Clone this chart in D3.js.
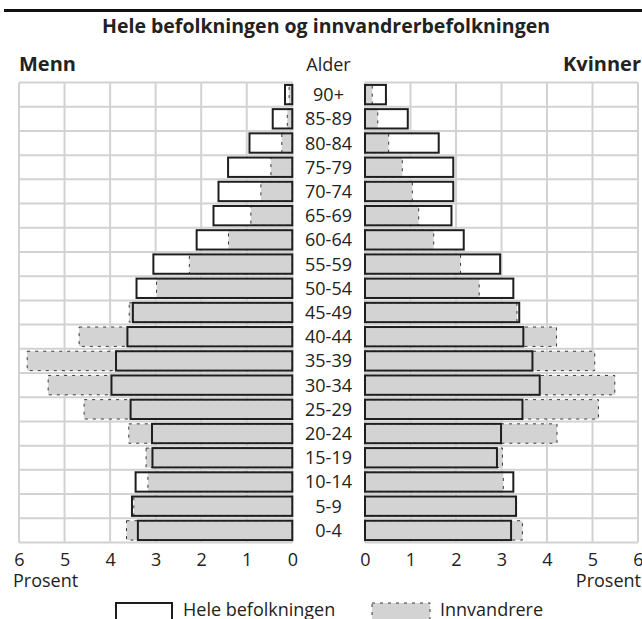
<!DOCTYPE html>
<html>
<head>
<meta charset="utf-8">
<script src="https://cdn.jsdelivr.net/npm/d3@7"></script>
<style>
  html, body { margin: 0; padding: 0; background: #fff; }
  svg { display: block; font-family: "Open Sans", sans-serif; }
</style>
</head>
<body>
<svg id="chart" width="642" height="619"></svg>
<script>
const ages = ["0-4","5-9","10-14","15-19","20-24","25-29","30-34","35-39","40-44","45-49","50-54","55-59","60-64","65-69","70-74","75-79","80-84","85-89","90+"];
const menHele   = [3.39,3.52,3.44,3.07,3.08,3.55,3.97,3.87,3.62,3.50,3.42,3.05,2.10,1.73,1.62,1.41,0.94,0.43,0.16];
const menInnv   = [3.64,3.48,3.17,3.21,3.59,4.57,5.36,5.82,4.68,3.58,2.98,2.26,1.40,0.91,0.69,0.47,0.23,0.11,0.07];
const womHele   = [3.21,3.32,3.26,2.90,2.99,3.46,3.84,3.68,3.48,3.39,3.26,2.97,2.17,1.90,1.94,1.94,1.62,0.94,0.46];
const womInnv   = [3.46,3.31,3.04,3.02,4.22,5.13,5.49,5.05,4.21,3.34,2.51,2.10,1.51,1.18,1.04,0.82,0.52,0.28,0.16];
const tickValues = [0,1,2,3,4,5,6];
const title = "Hele befolkningen og innvandrerbefolkningen";
const legendLabels = ["Hele befolkningen", "Innvandrere"];

const svg = d3.select("#chart");
const gridColor = "#d2d2d2";
const barFill = "#d3d3d3";
const outline = "#1e1e1e";
const textColor = "#222";

const yTop = 82.5, yBottom = 542.5;
const y = d3.scaleBand().domain(ages.slice().reverse()).range([yTop, yBottom]).padding(0);
const barPad = y.bandwidth() * 0.1;
const barH = y.bandwidth() - 2 * barPad;

const xL = d3.scaleLinear().domain([0, 6]).range([292.3, 19]);
const xR = d3.scaleLinear().domain([0, 6]).range([365, 638]);

// top rule
svg.append("line").attr("x1", 4).attr("x2", 642).attr("y1", 10.5).attr("y2", 10.5)
  .attr("stroke", "#111").attr("stroke-width", 3);

svg.append("text").attr("x", 326).attr("y", 33).attr("text-anchor", "middle")
  .attr("font-weight", "bold").attr("font-size", 19.5).attr("fill", textColor).text(title);

svg.append("text").attr("x", 19).attr("y", 71).attr("font-weight", "bold")
  .attr("font-size", 20).attr("fill", textColor).text("Menn");
svg.append("text").attr("x", 641).attr("y", 71).attr("font-weight", "bold")
  .attr("text-anchor", "end").attr("font-size", 20).attr("fill", textColor).text("Kvinner");
svg.append("text").attr("x", 328.5).attr("y", 71).attr("text-anchor", "middle")
  .attr("font-size", 18).attr("fill", textColor).text("Alder");

function panel(x, hele, innv, side) {
  const g = svg.append("g");
  const x0 = x(0), x6 = x(6);
  const xmin = Math.min(x0, x6), xmax = Math.max(x0, x6);
  g.selectAll("line.v").data(tickValues).join("line")
    .attr("x1", d => x(d)).attr("x2", d => x(d))
    .attr("y1", yTop).attr("y2", yBottom)
    .attr("stroke", gridColor).attr("stroke-width", 2);
  const rowEdges = y.domain().map(a => y(a)).concat([yBottom]);
  g.selectAll("line.h").data(rowEdges).join("line")
    .attr("x1", xmin).attr("x2", xmax)
    .attr("y1", d => d).attr("y2", d => d)
    .attr("stroke", gridColor).attr("stroke-width", 2);

  const rect = (sel, vals) => sel
    .attr("x", (d, i) => Math.min(x(0), x(vals[i])))
    .attr("width", (d, i) => Math.abs(x(vals[i]) - x(0)))
    .attr("y", d => y(d) + barPad)
    .attr("height", barH);

  rect(g.append("g").selectAll("rect").data(ages).join("rect"), hele)
    .attr("fill", "#fff");
  rect(g.append("g").selectAll("rect").data(ages).join("rect"), innv)
    .attr("fill", barFill).attr("stroke", "#3a3a3a").attr("stroke-width", 1)
    .attr("stroke-dasharray", "3,5");
  rect(g.append("g").selectAll("rect").data(ages).join("rect"), hele)
    .attr("fill", "none").attr("stroke", outline).attr("stroke-width", 2);

  const axis = d3.axisBottom(x).tickValues(tickValues).tickSize(0).tickPadding(0)
    .tickFormat(d3.format("d"));
  const ag = svg.append("g").attr("transform", `translate(0, 553)`).call(axis);
  ag.select(".domain").remove();
  ag.selectAll("text").attr("font-size", 18).attr("fill", textColor)
    .attr("font-family", "Open Sans, sans-serif").attr("dy", "0.7em");

  svg.append("text").attr("x", side === "left" ? 13 : 641).attr("y", 587)
    .attr("text-anchor", side === "left" ? "start" : "end")
    .attr("font-size", 18).attr("fill", textColor).text("Prosent");
}

panel(xL, menHele, menInnv, "left");
panel(xR, womHele, womInnv, "right");

svg.append("g").selectAll("text").data(ages).join("text")
  .attr("x", 328.5).attr("y", d => y(d) + y.bandwidth() / 2)
  .attr("dy", "0.36em").attr("text-anchor", "middle")
  .attr("font-size", 18).attr("fill", textColor).text(d => d);

const lg = svg.append("g");
lg.append("rect").attr("x", 116).attr("y", 603).attr("width", 56).attr("height", 20)
  .attr("fill", "#fff").attr("stroke", outline).attr("stroke-width", 2);
lg.append("text").attr("x", 183).attr("y", 616).attr("font-size", 18)
  .attr("fill", textColor).text(legendLabels[0]);
lg.append("rect").attr("x", 372).attr("y", 603).attr("width", 58).attr("height", 20)
  .attr("fill", barFill).attr("stroke", "#3a3a3a").attr("stroke-width", 1)
  .attr("stroke-dasharray", "3,5");
lg.append("text").attr("x", 440).attr("y", 616).attr("font-size", 18)
  .attr("fill", textColor).text(legendLabels[1]);
</script>
</body>
</html>
